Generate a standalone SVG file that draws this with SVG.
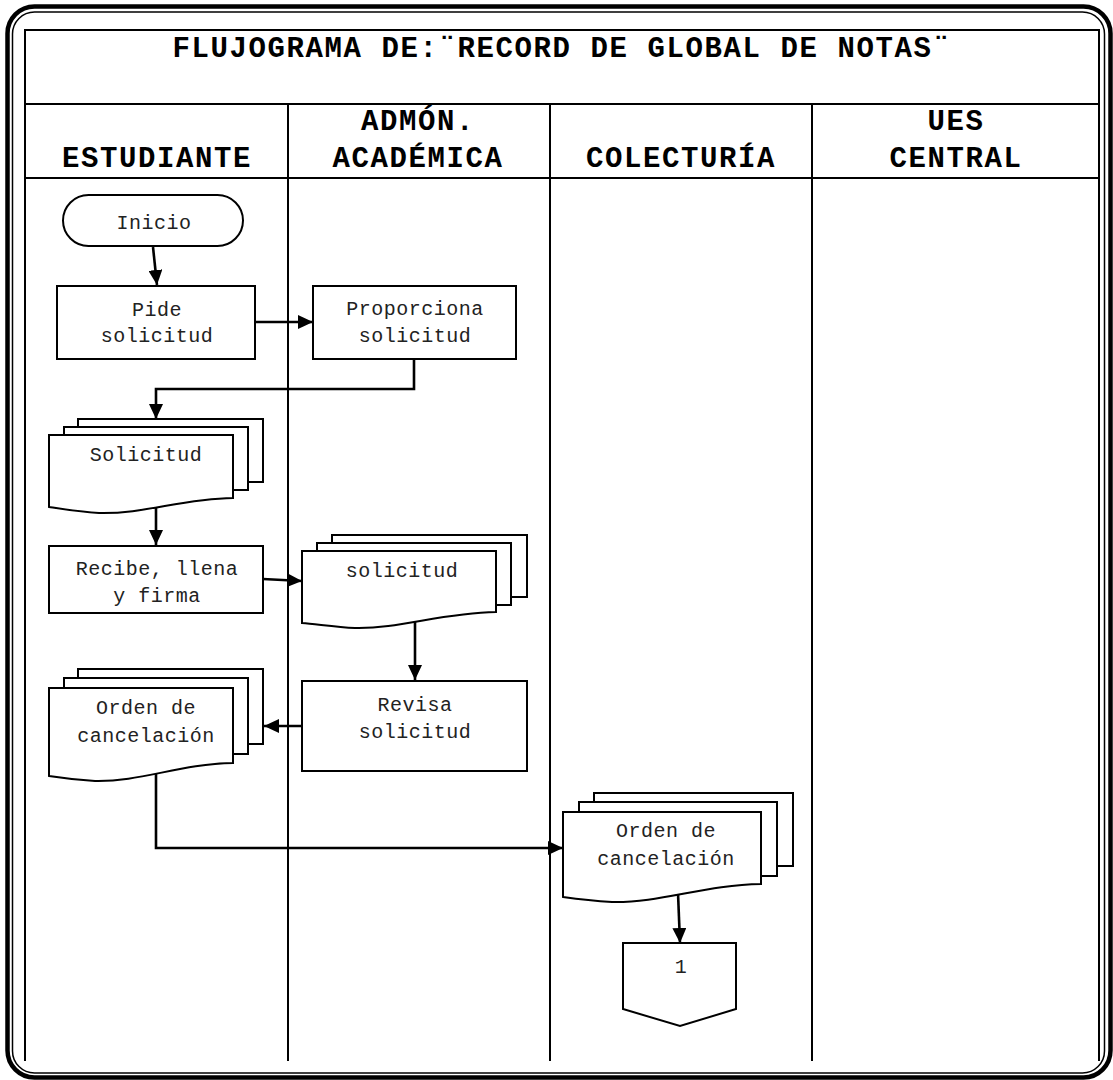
<svg xmlns="http://www.w3.org/2000/svg" width="1113" height="1080" viewBox="0 0 1113 1080">
  <style>
    .frame { fill: none; stroke: #000; }
    .grid { stroke: #000; stroke-width: 2; fill: none; }
    .shape { fill: #fff; stroke: #000; stroke-width: 2; }
    .conn { fill: none; stroke: #000; stroke-width: 2.6; }
    .hdr { font-family: "Liberation Mono", "DejaVu Sans Mono", monospace; font-weight: bold; font-size: 29px; letter-spacing: 1.6px; fill: #000; text-anchor: middle; }
    .lbl { font-family: "Liberation Mono", "DejaVu Sans Mono", monospace; font-size: 20px; letter-spacing: 0.5px; fill: #222; text-anchor: middle; }
  </style>
  <defs>
    <marker id="arrow" viewBox="0 0 15 14" refX="15" refY="7" markerWidth="15" markerHeight="14" markerUnits="userSpaceOnUse" orient="auto">
      <path d="M0,0 L15,7 L0,14 Z" fill="#000"/>
    </marker>
  </defs>

  <rect width="1113" height="1080" fill="#fff"/>

  <!-- page border: thick outer line with a thin inner line -->
  <g id="page-border">
    <rect class="frame" x="7.5" y="6.5" width="1103" height="1071" rx="27" stroke-width="4.5"/>
    <rect class="frame" x="12.5" y="12" width="1092" height="1061" rx="22" stroke-width="1.5"/>
  </g>

  <!-- swimlane table -->
  <g id="table">
    <line class="grid" x1="24" y1="30" x2="1100" y2="30"/>
    <line class="grid" x1="24" y1="104" x2="1100" y2="104"/>
    <line class="grid" x1="24" y1="178" x2="1100" y2="178"/>
    <line class="grid" x1="25" y1="30" x2="25" y2="1061"/>
    <line class="grid" x1="1099" y1="30" x2="1099" y2="1061"/>
    <line class="grid" x1="288" y1="104" x2="288" y2="1061"/>
    <line class="grid" x1="550" y1="104" x2="550" y2="1061"/>
    <line class="grid" x1="812" y1="104" x2="812" y2="1061"/>
  </g>

  <g id="title">
    <text class="hdr" x="562" y="57">FLUJOGRAMA DE:¨RECORD DE GLOBAL DE NOTAS¨</text>
  </g>

  <g id="lane-headers">
    <text class="hdr" x="157" y="167">ESTUDIANTE</text>
    <text class="hdr" x="418" y="130">ADMÓN.</text>
    <text class="hdr" x="418" y="167">ACADÉMICA</text>
    <text class="hdr" x="681" y="167">COLECTURÍA</text>
    <text class="hdr" x="956" y="130">UES</text>
    <text class="hdr" x="956" y="167">CENTRAL</text>
  </g>

  <!-- connectors -->
  <g id="connectors">
    <line class="conn" x1="153" y1="247" x2="157" y2="285" marker-end="url(#arrow)"/>
    <line class="conn" x1="255" y1="322" x2="313" y2="322" marker-end="url(#arrow)"/>
    <polyline class="conn" points="414,359 414,389 156,389 156,419" marker-end="url(#arrow)"/>
    <line class="conn" x1="156" y1="506" x2="156" y2="545" marker-end="url(#arrow)"/>
    <line class="conn" x1="263" y1="579" x2="302" y2="581" marker-end="url(#arrow)"/>
    <line class="conn" x1="415" y1="620" x2="415" y2="680" marker-end="url(#arrow)"/>
    <line class="conn" x1="302" y1="726" x2="264" y2="726" marker-end="url(#arrow)"/>
    <polyline class="conn" points="156,772 156,848 563,848" marker-end="url(#arrow)"/>
    <line class="conn" x1="678" y1="893" x2="680" y2="943" marker-end="url(#arrow)"/>
  </g>

  <!-- nodes -->
  <g id="inicio">
    <rect class="shape" x="63" y="195" width="180" height="51" rx="25.5"/>
    <text class="lbl" x="154" y="229">Inicio</text>
  </g>

  <g id="pide-solicitud">
    <rect class="shape" x="57" y="286" width="198" height="73"/>
    <text class="lbl" x="157" y="316">Pide</text>
    <text class="lbl" x="157" y="342">solicitud</text>
  </g>

  <g id="proporciona-solicitud">
    <rect class="shape" x="313" y="286" width="203" height="73"/>
    <text class="lbl" x="415" y="315">Proporciona</text>
    <text class="lbl" x="415" y="342">solicitud</text>
  </g>

  <g id="doc-solicitud-estudiante">
    <rect class="shape" x="78" y="419" width="185" height="63"/>
    <rect class="shape" x="64" y="427" width="184" height="63"/>
    <path class="shape" d="M49,435 H233 V498 C180,499 145,514 99,513 C80,512 62,509 49,507 Z"/>
    <text class="lbl" x="146" y="461">Solicitud</text>
  </g>

  <g id="recibe-llena-firma">
    <rect class="shape" x="49" y="546" width="214" height="67"/>
    <text class="lbl" x="157" y="575">Recibe, llena</text>
    <text class="lbl" x="157" y="602">y firma</text>
  </g>

  <g id="doc-solicitud-admon">
    <rect class="shape" x="332" y="535" width="195" height="62"/>
    <rect class="shape" x="317" y="543" width="194" height="62"/>
    <path class="shape" d="M302,551 H496 V612 C440,613 400,629 355,628 C335,627 316,624 302,623 Z"/>
    <text class="lbl" x="402" y="577">solicitud</text>
  </g>

  <g id="revisa-solicitud">
    <rect class="shape" x="302" y="681" width="225" height="90"/>
    <text class="lbl" x="415" y="711">Revisa</text>
    <text class="lbl" x="415" y="738">solicitud</text>
  </g>

  <g id="doc-orden-estudiante">
    <rect class="shape" x="78" y="669" width="185" height="75"/>
    <rect class="shape" x="64" y="678" width="184" height="76"/>
    <path class="shape" d="M49,688 H233 V763 C180,764 140,782 95,781 C78,780 62,778 49,776 Z"/>
    <text class="lbl" x="146" y="714">Orden de</text>
    <text class="lbl" x="146" y="742">cancelación</text>
  </g>

  <g id="doc-orden-colecturia">
    <rect class="shape" x="594" y="793" width="199" height="73"/>
    <rect class="shape" x="579" y="802" width="198" height="74"/>
    <path class="shape" d="M563,812 H761 V884 C705,885 660,903 612,902 C594,901 577,899 563,897 Z"/>
    <text class="lbl" x="666" y="837">Orden de</text>
    <text class="lbl" x="666" y="865">cancelación</text>
  </g>

  <g id="conector-1">
    <path class="shape" d="M623,943 H736 V1009 L680,1026 L623,1009 Z"/>
    <text class="lbl" x="681" y="973">1</text>
  </g>
</svg>
